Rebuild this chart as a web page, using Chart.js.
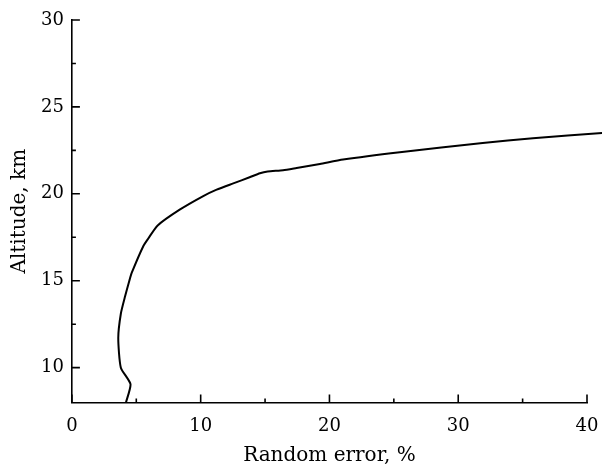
<!DOCTYPE html>
<html>
<head>
<meta charset="utf-8">
<script src="https://cdn.jsdelivr.net/npm/chart.js@4.4.0/dist/chart.umd.min.js"></script>
<style>
html,body{margin:0;padding:0;background:#fff;}
#wrap{width:602px;height:465px;position:relative;}
</style>
</head>
<body>
<div id="wrap"><canvas id="c" width="602" height="465"></canvas></div>
<script>
// Data
const errorPct = [4.2, 4.55, 3.8, 3.6, 3.8, 4.13, 4.46, 4.65, 5.55, 5.93, 6.66, 8.4, 10.2, 11.24, 12.53, 13.8, 14.6, 15.2, 16.4, 17.45, 19.26, 21.06, 25.46, 31.9, 35.8, 41.2];
const altitudeKm = [8.0, 9.05, 10.0, 11.7, 13.1, 14.1, 15.0, 15.46, 17.0, 17.43, 18.18, 19.1, 19.87, 20.24, 20.6, 20.95, 21.18, 21.28, 21.36, 21.49, 21.72, 21.97, 22.39, 22.93, 23.2, 23.5];
const xMajorTicks = [0, 10, 20, 30, 40];
const xMinorTicks = [5, 15, 25, 35];
const yMajorTicks = [10, 15, 20, 25, 30];
const yMinorTicks = [12.5, 17.5, 22.5, 27.5];
const xTitle = 'Random error, %';
const yTitle = 'Altitude, km';

const FONT = "'DejaVu Serif', serif";

const inwardTicks = {
  id: 'inwardTicks',
  afterDraw(chart) {
    const ctx = chart.ctx, xs = chart.scales.x, ys = chart.scales.y;
    const a = chart.chartArea;
    ctx.save();
    ctx.strokeStyle = '#000';
    ctx.lineWidth = 1.6;
    ctx.beginPath();
    xMajorTicks.forEach(v => { const p = xs.getPixelForValue(v); ctx.moveTo(p, a.bottom); ctx.lineTo(p, a.bottom - 8); });
    xMinorTicks.forEach(v => { const p = xs.getPixelForValue(v); ctx.moveTo(p, a.bottom); ctx.lineTo(p, a.bottom - 4); });
    yMajorTicks.forEach(v => { const p = ys.getPixelForValue(v); ctx.moveTo(a.left, p); ctx.lineTo(a.left + 8, p); });
    yMinorTicks.forEach(v => { const p = ys.getPixelForValue(v); ctx.moveTo(a.left, p); ctx.lineTo(a.left + 4, p); });
    ctx.stroke();
    ctx.restore();
  }
};

new Chart(document.getElementById('c'), {
  type: 'scatter',
  data: {
    datasets: [{
      data: errorPct.map((x, i) => ({x: x, y: altitudeKm[i]})),
      showLine: true,
      borderColor: '#000',
      borderWidth: 2,
      pointRadius: 0,
      tension: 0.2,
      clip: false
    }]
  },
  options: {
    responsive: false,
    animation: false,
    devicePixelRatio: 1,
    layout: {padding: {top: 20, right: 15, left: 8, bottom: -3}},
    plugins: {legend: {display: false}, tooltip: {enabled: false}},
    scales: {
      x: {
        type: 'linear', min: 0, max: 40,
        afterBuildTicks: s => { s.ticks = xMajorTicks.map(v => ({value: v})); },
        afterFit: s => { s.paddingRight = 0; },
        grid: {display: false, drawTicks: false},
        border: {display: true, color: '#000', width: 1.6},
        ticks: {color: '#000', font: {family: FONT, size: 18}, padding: 13, maxRotation: 0},
        title: {display: true, text: xTitle, color: '#000', font: {family: FONT, size: 20}, padding: {top: -6, bottom: 0}}
      },
      y: {
        type: 'linear', min: 8, max: 30,
        afterBuildTicks: s => { s.ticks = yMajorTicks.map(v => ({value: v})); },
        afterFit: s => { s.paddingTop = 0; },
        grid: {display: false, drawTicks: false},
        border: {display: true, color: '#000', width: 1.6},
        ticks: {color: '#000', font: {family: FONT, size: 18}, padding: 8},
        title: {display: true, text: yTitle, color: '#000', font: {family: FONT, size: 20}, padding: {top: 0, bottom: 1}}
      }
    }
  },
  plugins: [inwardTicks]
});
</script>
</body>
</html>
